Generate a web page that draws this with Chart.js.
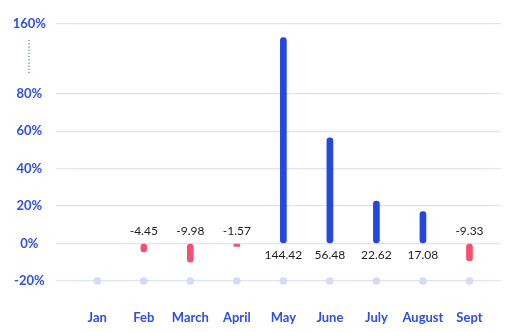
<!DOCTYPE html>
<html lang="en">
<head>
  <meta charset="UTF-8" />
  <title>Monthly change</title>
  <style>
    body { margin: 0; background: #fff; }
    #wrap { width: 512px; height: 332px; }
  </style>
</head>
<body>
  <div id="wrap">
    <canvas id="chart" width="512" height="332"></canvas>
  </div>

  <script src="https://cdn.jsdelivr.net/npm/chart.js"></script>
  <script>
    // data
    const months = ["Jan", "Feb", "March", "April", "May", "June", "July", "August", "Sept"];
    const changes = [null, -4.45, -9.98, -1.57, 144.42, 56.48, 22.62, 17.08, -9.33];
    const baseline = [-20, -20, -20, -20, -20, -20, -20, -20, -20];
    const yTicks = [-20, 0, 20, 40, 60, 80, 160];

    const BLUE = "#2447e0";
    const RED = "#f4506f";
    const LABEL = "#2d4fe2";
    const GRID = "#dfe3f7";

    // axis is broken above 80%, the upper part is squeezed
    const BREAK_AT = 80;
    const SQUEEZE = 0.465;

    class BrokenScale extends Chart.LinearScale {
      static id = "broken";
      static defaults = Chart.LinearScale.defaults;
      squeeze(v) {
        return v <= BREAK_AT ? v : BREAK_AT + (v - BREAK_AT) * SQUEEZE;
      }
      getPixelForValue(value) {
        const a = this.squeeze(this.min), b = this.squeeze(this.max);
        return this.getPixelForDecimal((this.squeeze(value) - a) / (b - a));
      }
      getValueForPixel(pixel) {
        const a = this.squeeze(this.min), b = this.squeeze(this.max);
        const t = a + this.getDecimalForPixel(pixel) * (b - a);
        return t <= BREAK_AT ? t : BREAK_AT + (t - BREAK_AT) / SQUEEZE;
      }
    }
    Chart.register(BrokenScale);

    const valueLabels = {
      id: "valueLabels",
      afterDatasetsDraw(chart) {
        const ctx = chart.ctx;
        const y = chart.scales.y;
        const zero = y.getPixelForValue(0);
        const meta = chart.getDatasetMeta(0);
        ctx.save();
        ctx.font = "12px Lato";
        ctx.fillStyle = "#1c1c1c";
        ctx.textAlign = "center";
        ctx.textBaseline = "middle";
        meta.data.forEach((bar, i) => {
          const v = changes[i];
          if (v === null) return;
          ctx.fillText(v.toFixed(2), bar.x, v >= 0 ? zero + 12 : zero - 12);
        });
        ctx.restore();
      }
    };

    const breakMark = {
      id: "breakMark",
      afterDraw(chart) {
        const y = chart.scales.y;
        const top = y.getPixelForValue(160) + 16;
        const bottom = y.getPixelForValue(80) - 19;
        const ctx = chart.ctx;
        ctx.save();
        ctx.strokeStyle = LABEL;
        ctx.lineWidth = 1;
        ctx.setLineDash([1.2, 2]);
        ctx.beginPath();
        ctx.moveTo(29, top);
        ctx.lineTo(29, bottom);
        ctx.stroke();
        ctx.restore();
      }
    };

    const yAxis = (pos, width, tickLen) => ({
      type: "broken",
      position: pos,
      min: -20,
      max: 160,
      afterBuildTicks: s => { s.ticks = yTicks.map(v => ({ value: v })); },
      afterFit: s => { s.width = width; },
      border: { display: false },
      grid: {
        color: GRID,
        lineWidth: 1.2,
        tickLength: tickLen,
        drawOnChartArea: pos === "left"
      },
      ticks: {
        display: pos === "left",
        crossAlign: "center",
        padding: 10,
        color: LABEL,
        font: { family: "Lato", size: 13, weight: "bold" },
        callback: v => v + "%"
      }
    });

    new Chart(document.getElementById("chart"), {
      type: "bar",
      data: {
        labels: months,
        datasets: [{
          data: changes,
          backgroundColor: changes.map(v => v < 0 ? RED : BLUE),
          barThickness: 6,
          borderRadius: 3,
          borderSkipped: false,
          order: 1
        }, {
          type: "line",
          data: baseline,
          showLine: false,
          pointRadius: 3.8,
          pointBackgroundColor: "#d5dbf5",
          pointBorderWidth: 0,
          clip: false,
          order: 2
        }]
      },
      options: {
        responsive: false,
        animation: false,
        layout: { padding: { top: 24, bottom: 0, left: 0, right: 0 } },
        plugins: { legend: { display: false }, tooltip: { enabled: false } },
        scales: {
          x: {
            grid: { display: false, drawTicks: false },
            border: { display: false },
            afterFit: s => { s.height = 51; },
            ticks: {
              padding: 29,
              color: LABEL,
              font: { family: "Lato", size: 13, weight: "bold" }
            }
          },
          y: yAxis("left", 74, 18),
          y2: yAxis("right", 8, 8)
        }
      },
      plugins: [valueLabels, breakMark]
    });
  </script>
</body>
</html>
